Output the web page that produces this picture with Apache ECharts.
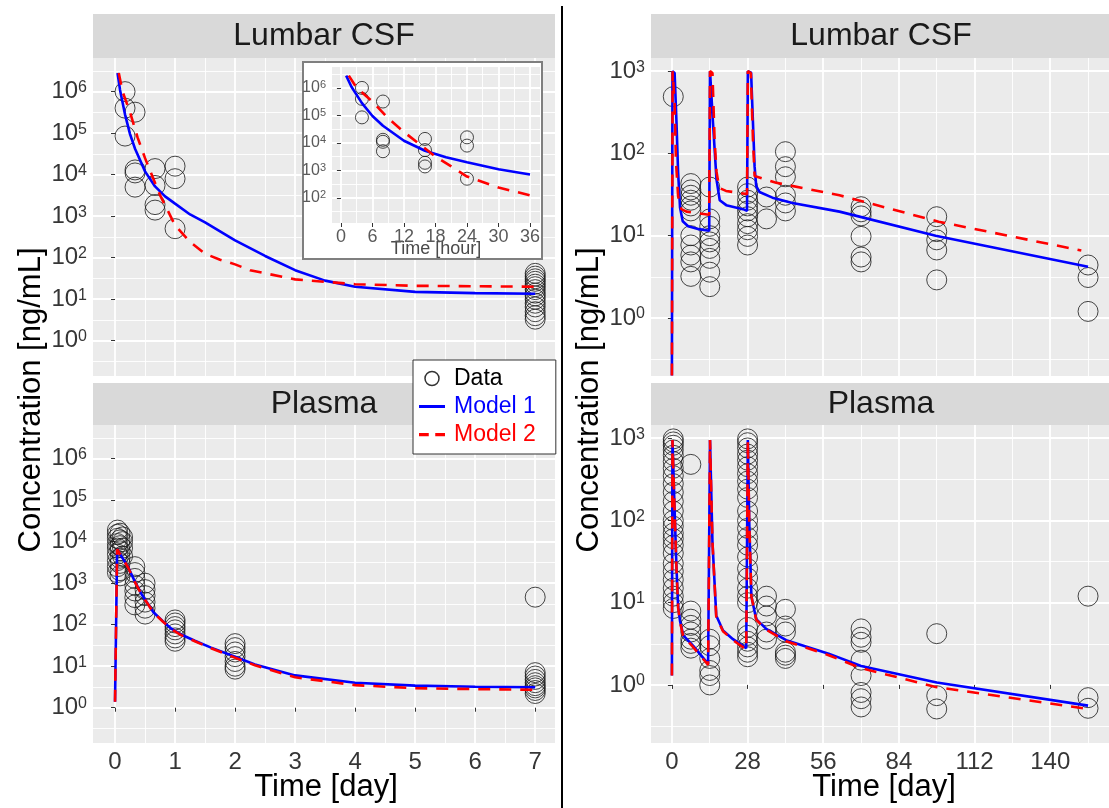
<!DOCTYPE html>
<html>
<head>
<meta charset="utf-8">
<script src="https://cdn.jsdelivr.net/npm/echarts@6/dist/echarts.min.js"></script>
<style>
  html, body { margin: 0; padding: 0; background: #ffffff; }
  #chart { width: 1109px; height: 808px; }
</style>
</head>
<body>
<div id="chart"></div>
<script>
// ---------------- observed concentrations ----------------
// Lumbar CSF, first week: [time in hours, concentrations ng/mL]
const csfWeekGroups = [
  [4,   [1.0e6, 4.0e5, 8.5e4]],
  [8,   [3.2e5, 1.3e4, 1.1e4, 5.0e3]],
  [16,  [1.4e4, 5.5e3, 1.9e3, 1.4e3]],
  [24,  [1.6e4, 8.0e3, 5.0e2]],
  [168, [42, 36, 31, 27, 23, 20, 17, 14, 12, 10, 8, 6.5, 5, 4, 3.3]]
];
// Plasma, first week: [time in days, concentrations]
const plasmaWeekGroups = [
  [0.04,  [1.9e4, 1.5e4, 1.2e4, 9e3, 7e3, 5e3, 3.5e3, 2.5e3, 1.8e3]],
  [0.083, [1.6e4, 1.1e4, 8e3, 6e3, 4e3, 3e3, 2e3, 1.5e3]],
  [0.125, [1.3e4, 1.0e4, 7e3, 4.5e3]],
  [0.33,  [2500, 1800, 1300, 900, 650, 450, 300]],
  [0.5,   [1000, 700, 500, 350, 250, 180]],
  [1,     [130, 110, 90, 75, 60, 48, 40]],
  [2,     [35, 28, 22, 17, 13, 10, 8.5]],
  [7,     [460, 7, 5.8, 4.8, 4, 3.4, 3, 2.6, 2.2]]
];
// Lumbar CSF, repeated dosing: [time in days, concentrations]
const csfLongGroups = [
  [0.5, [490]],
  [7,   [43, 36, 31, 27, 23, 20, 10, 7.7, 5.8, 4.8, 3.2]],
  [14,  [39, 16, 13, 10, 8.4, 7, 5.3, 3.6, 2.4]],
  [28,  [39, 32.5, 27, 23, 20, 17, 14, 11.8, 9.8, 7.7]],
  [35,  [29.5, 16]],
  [42,  [105, 69, 52, 31, 25, 20]],
  [70,  [22.5, 19.5, 17.4, 9.8, 5.5, 4.8]],
  [98,  [17, 11.2, 8.9, 6.7, 2.9]],
  [154, [4.4, 3.1, 1.2]]
];
// Plasma, repeated dosing: [time in days, concentrations]
const plasmaLongGroups = [
  [0.5, [980, 900, 820, 720, 620, 520, 430, 350, 280, 220, 170, 130, 100, 85, 70, 60, 50, 40, 30, 24, 19, 15, 12, 10, 8.5]],
  [7,   [480, 7.9, 6.3, 5.3, 4.4, 3.6, 3.2, 2.8]],
  [14,  [3.6, 3.0, 2.1, 1.5, 1.3, 1.0]],
  [28,  [980, 880, 760, 640, 540, 450, 370, 300, 240, 190, 130, 100, 80, 62, 50, 36, 26, 20, 15, 12, 10, 5, 4, 3.4, 2.9, 2.5, 2.2]],
  [35,  [12, 9.1, 6.9, 4.4, 3.6]],
  [42,  [8.3, 5.2, 4.4, 2.5, 2.3, 2.1]],
  [70,  [4.8, 3.8, 3.3, 2.0, 1.3, 0.81, 0.68, 0.54]],
  [98,  [4.2, 0.74, 0.51]],
  [154, [12, 0.7, 0.52]]
];

// ---------------- model predictions ----------------
// Lumbar CSF, first week [hours, ng/mL]
const model1CsfWeek = [[1,2.8e6],[2,1.1e6],[4,2.8e5],[6,9.5e4],[8,4.2e4],[12,1.2e4],[16,5.2e3],[20,3.0e3],[24,2.0e3],[30,1.1e3],[36,710],[48,260],[60,110],[72,50],[84,28],[96,20],[120,15],[144,14],[168,13.5]];
const model2CsfWeek = [[1.5,2.8e6],[3,1.0e6],[6,3.2e5],[9,7.9e4],[12,2.5e4],[15,8.9e3],[18,3.2e3],[21,1.4e3],[24,600],[30,240],[36,125],[42,89],[48,69],[54,50],[60,42],[72,30],[96,23],[120,21],[168,20]];
// Plasma, first week [days, ng/mL]
const model1PlasmaWeek = [[0,1.4],[0.035,6600],[0.1,4600],[0.22,2400],[0.33,1100],[0.44,550],[0.55,316],[0.64,200],[0.8,120],[0.94,80],[1.1,58],[1.33,41],[1.6,28],[1.89,19.5],[2.33,11],[3,6],[4,4],[5,3.4],[6,3.2],[7,3.1]];
const model2PlasmaWeek = [[0,1.4],[0.035,6600],[0.1,4550],[0.22,2350],[0.33,1080],[0.44,540],[0.55,310],[0.64,195],[0.8,118],[0.94,78],[1.1,56],[1.33,40],[1.6,27],[1.89,18.5],[2.33,10.5],[3,5.4],[4,3.5],[5,2.95],[6,2.8],[7,2.7]];
// Lumbar CSF, repeated dosing [days, ng/mL]
const model1CsfLong = [[0,0.2],[0.2,1000],[1.0,950],[1.7,235],[2.3,58],[3,22],[4,15],[6,13],[10,12],[13.8,11.5],[14.1,1000],[14.8,950],[15.2,235],[16.5,48],[17.7,27],[20.1,23.5],[26.3,21],[27.8,20],[28.1,1000],[29.3,960],[30.6,69],[31.2,40],[32.4,34],[37.2,29],[44.6,25],[62,19.6],[97.6,10],[154,4.2]];
const model2CsfLong = [[0,0.2],[0.25,1000],[1.0,400],[1.5,80],[2.3,30],[3.5,21],[5.4,19.6],[10.3,18.6],[13.8,18],[14.1,1000],[15.0,950],[15.8,145],[16.5,60],[17.5,38],[20,35],[27.8,32],[28.1,1000],[29.2,950],[30,145],[30.6,53],[38.6,44],[62,31],[98.7,14.8],[151.5,6.6]];
// Plasma, repeated dosing [days, ng/mL]
const model1PlasmaLong = [[0,1.3],[0.2,950],[1.1,105],[1.7,26],[2.3,9],[3,6],[4.2,4],[7.8,3],[13.4,1.8],[13.9,1.75],[14.1,950],[15,55],[16.4,7],[18.9,4.6],[22.6,3.6],[27.5,2.8],[27.9,2.75],[28.1,950],[28.6,100],[29.4,12],[31.2,6.3],[34.9,4.8],[42.3,3.5],[58,2.4],[70,1.7],[98,1.07],[154,0.56]];
const model2PlasmaLong = [[0,1.3],[0.2,950],[1.1,100],[1.7,25],[2.3,8.7],[3,5.8],[4.2,3.9],[7.8,2.9],[13.4,1.75],[13.9,1.7],[14.1,950],[15,55],[16.4,6.8],[18.9,4.5],[22.6,3.5],[27.5,2.7],[27.9,2.7],[28.1,950],[28.6,100],[29.4,12],[31.2,6.2],[34.9,4.7],[42.3,3.4],[58,2.3],[70,1.6],[98,0.94],[154,0.51]];

// ---------------- axis breaks ----------------
const weekDayTicks = [0, 1, 2, 3, 4, 5, 6, 7];
const weekDayMinor = [0.5, 1.5, 2.5, 3.5, 4.5, 5.5, 6.5];
const longDayTicks = [0, 28, 56, 84, 112, 140];
const longDayMinor = [14, 42, 70, 98, 126, 154];
const hourTicks = [0, 6, 12, 18, 24, 30, 36];
const hourMinor = [3, 9, 15, 21, 27, 33];
const weekExp = [0, 1, 2, 3, 4, 5, 6];
const weekExpMinor = [-0.5, 0.5, 1.5, 2.5, 3.5, 4.5, 5.5, 6.5];
const longExp = [0, 1, 2, 3];
const longExpMinor = [-0.5, 0.5, 1.5, 2.5];
const hourExp = [2, 3, 4, 5, 6];
const hourExpMinor = [1.5, 2.5, 3.5, 4.5, 5.5, 6.5];

// ---------------- helpers ----------------
const FONT = '"Liberation Sans", Arial, sans-serif';
const BLUE = '#0000ff';
const RED = '#ff0000';
const flatten = (groups, scale) => {
  const out = [];
  groups.forEach(([t, vals]) => vals.forEach(v => out.push([t * scale, v])));
  return out;
};
const rescale = (pts, scale) => pts.map(([t, v]) => [t * scale, v]);

// panel rectangles (px)
const P = {
  csfWeek:    { left: 93,  top: 58,  width: 462, height: 318 },
  plasmaWeek: { left: 93,  top: 425, width: 462, height: 318 },
  csfLong:    { left: 651, top: 58,  width: 460, height: 318 },
  plasmaLong: { left: 651, top: 425, width: 460, height: 318 },
  inset:      { left: 332, top: 67,  width: 208, height: 156 }
};
const grids = [P.csfWeek, P.plasmaWeek, P.csfLong, P.plasmaLong, P.inset].map((g, i) => ({
  left: g.left, top: g.top, width: g.width, height: g.height,
  show: true, backgroundColor: '#ebebeb', borderWidth: 0,
  z: i === 4 ? 5 : 0
}));

function xMain(gi, min, max, ticks, fs, color, z, margin) {
  return {
    type: 'value', gridIndex: gi, min, max, z,
    axisLine: { show: false },
    axisTick: { show: true, length: 4, customValues: ticks, lineStyle: { color: '#333', width: 1 } },
    axisLabel: { customValues: ticks, fontSize: fs, fontFamily: FONT, color, margin },
    splitLine: { show: true, lineStyle: { color: '#ffffff', width: 1.8 } }
  };
}
function xMinor(gi, min, max, ticks, z) {
  return {
    type: 'value', gridIndex: gi, min, max, z,
    axisLine: { show: false }, axisLabel: { show: false },
    axisTick: { show: false, customValues: ticks },
    splitLine: { show: true, lineStyle: { color: '#ffffff', width: 0.9 } }
  };
}
function yMain(gi, lo, hi, exps, fs, sup, color, z) {
  return {
    type: 'log', logBase: 10, gridIndex: gi, min: Math.pow(10, lo), max: Math.pow(10, hi), z,
    axisLine: { show: false },
    axisTick: { show: true, length: 4, customValues: exps.map(e => Math.pow(10, e)), lineStyle: { color: '#333', width: 1 } },
    axisLabel: {
      customValues: exps.map(e => Math.pow(10, e)),
      margin: 6, color, fontFamily: FONT,
      formatter: v => '{b|10}{s|' + Math.round(Math.log10(v)) + '}',
      rich: {
        b: { fontSize: fs, fontFamily: FONT, color, verticalAlign: 'bottom' },
        s: { fontSize: sup, fontFamily: FONT, color, verticalAlign: 'top' }
      }
    },
    splitLine: { show: true, lineStyle: { color: '#ffffff', width: 1.8 } }
  };
}
function yMinor(gi, lo, hi, exps, z) {
  return {
    type: 'value', gridIndex: gi, min: lo, max: hi, z,
    axisLine: { show: false }, axisLabel: { show: false },
    axisTick: { show: false, customValues: exps },
    splitLine: { show: true, lineStyle: { color: '#ffffff', width: 0.9 } }
  };
}

const weekX = [-0.367, 7.33];
const longX = [-7.74, 161.75];
const hourX = [-1.7, 37.9];
const weekY = [-0.85, 6.81];
const longY = [-0.706, 3.16];
const hourY = [1.09, 6.76];
const TICK = '#363636';
const INSET_TICK = '#5a5a5a';

const xAxis = [
  xMain(0, weekX[0], weekX[1], weekDayTicks, 24, TICK, 0, 7),
  xMain(1, weekX[0], weekX[1], weekDayTicks, 24, TICK, 0, 7),
  xMain(2, longX[0], longX[1], longDayTicks, 24, TICK, 0, 7),
  xMain(3, longX[0], longX[1], longDayTicks, 24, TICK, 0, 7),
  xMain(4, hourX[0], hourX[1], hourTicks, 18, INSET_TICK, 6, 5),
  xMinor(0, weekX[0], weekX[1], weekDayMinor, 0),
  xMinor(1, weekX[0], weekX[1], weekDayMinor, 0),
  xMinor(2, longX[0], longX[1], longDayMinor, 0),
  xMinor(3, longX[0], longX[1], longDayMinor, 0),
  xMinor(4, hourX[0], hourX[1], hourMinor, 6)
];
xAxis[0].axisLabel.show = false;
xAxis[0].axisTick.show = false;
xAxis[2].axisLabel.show = false;
xAxis[2].axisTick.show = false;

const yAxis = [
  yMain(0, weekY[0], weekY[1], weekExp, 24, 16, TICK, 0),
  yMain(1, weekY[0], weekY[1], weekExp, 24, 16, TICK, 0),
  yMain(2, longY[0], longY[1], longExp, 24, 16, TICK, 0),
  yMain(3, longY[0], longY[1], longExp, 24, 16, TICK, 0),
  yMain(4, hourY[0], hourY[1], hourExp, 16, 11, INSET_TICK, 6),
  yMinor(0, weekY[0], weekY[1], weekExpMinor, 0),
  yMinor(1, weekY[0], weekY[1], weekExpMinor, 0),
  yMinor(2, longY[0], longY[1], longExpMinor, 0),
  yMinor(3, longY[0], longY[1], longExpMinor, 0),
  yMinor(4, hourY[0], hourY[1], hourExpMinor, 6)
];

function dataSeries(ai, pts, size, z) {
  return {
    name: 'Data', type: 'scatter', xAxisIndex: ai, yAxisIndex: ai, data: pts,
    symbol: 'circle', symbolSize: size, z,
    itemStyle: { color: 'rgba(0,0,0,0)', borderColor: '#1a1a1a', borderWidth: 1 },
    emphasis: { disabled: true }, silent: true
  };
}
function modelSeries(name, ai, pts, color, dashed, z) {
  return {
    name, type: 'line', xAxisIndex: ai, yAxisIndex: ai, data: pts,
    symbol: 'none', showSymbol: false, z,
    lineStyle: { color, width: 2.6, type: dashed ? [12, 9] : 'solid' },
    itemStyle: { color },
    emphasis: { disabled: true }, silent: true
  };
}

const series = [
  // Lumbar CSF, first week (days)
  dataSeries(0, flatten(csfWeekGroups, 1 / 24), 20, 2),
  modelSeries('Model 1', 0, rescale(model1CsfWeek, 1 / 24), BLUE, false, 3),
  modelSeries('Model 2', 0, rescale(model2CsfWeek, 1 / 24), RED, true, 4),
  // Plasma, first week
  dataSeries(1, flatten(plasmaWeekGroups, 1), 20, 2),
  modelSeries('Model 1', 1, model1PlasmaWeek, BLUE, false, 3),
  modelSeries('Model 2', 1, model2PlasmaWeek, RED, true, 4),
  // Lumbar CSF, repeated dosing
  dataSeries(2, flatten(csfLongGroups, 1), 20, 2),
  modelSeries('Model 1', 2, model1CsfLong, BLUE, false, 3),
  modelSeries('Model 2', 2, model2CsfLong, RED, true, 4),
  // Plasma, repeated dosing
  dataSeries(3, flatten(plasmaLongGroups, 1), 20, 2),
  modelSeries('Model 1', 3, model1PlasmaLong, BLUE, false, 3),
  modelSeries('Model 2', 3, model2PlasmaLong, RED, true, 4),
  // inset: first 36 hours of lumbar CSF
  dataSeries(4, flatten(csfWeekGroups.filter(g => g[0] <= 36), 1), 13, 7),
  modelSeries('Model 1', 4, model1CsfWeek.filter(p => p[0] <= 36), BLUE, false, 8),
  modelSeries('Model 2', 4, model2CsfWeek.filter(p => p[0] <= 36), RED, true, 9)
];

function strip(g, label, y, h) {
  return [
    { type: 'rect', z: 1, shape: { x: g.left, y, width: g.width, height: h }, style: { fill: '#d9d9d9' } },
    { type: 'text', z: 2, style: { text: label, x: g.left + g.width / 2, y: y + h / 2, align: 'center', verticalAlign: 'middle', font: '32px ' + FONT, fill: '#1a1a1a' } }
  ];
}
const graphic = [
  ...strip(P.csfWeek, 'Lumbar CSF', 14, 44),
  ...strip(P.plasmaWeek, 'Plasma', 383, 42),
  ...strip(P.csfLong, 'Lumbar CSF', 14, 44),
  ...strip(P.plasmaLong, 'Plasma', 383, 42),
  // inset frame
  { type: 'rect', z: 4, shape: { x: 303, y: 62, width: 239, height: 197 }, style: { fill: '#ffffff', stroke: '#7f7f7f', lineWidth: 2 } },
  { type: 'text', z: 6, style: { text: 'Time [hour]', x: 436, y: 249, align: 'center', verticalAlign: 'middle', font: '18px ' + FONT, fill: '#4a4a4a' } },
  // axis titles
  { type: 'text', z: 2, rotation: Math.PI / 2, x: 31, y: 400, style: { text: 'Concentration [ng/mL]', align: 'center', verticalAlign: 'middle', font: '31px ' + FONT, fill: '#000' } },
  { type: 'text', z: 2, rotation: Math.PI / 2, x: 589, y: 400, style: { text: 'Concentration [ng/mL]', align: 'center', verticalAlign: 'middle', font: '31px ' + FONT, fill: '#000' } },
  { type: 'text', z: 2, style: { text: 'Time [day]', x: 326, y: 787, align: 'center', verticalAlign: 'middle', font: '31px ' + FONT, fill: '#000' } },
  { type: 'text', z: 2, style: { text: 'Time [day]', x: 884, y: 787, align: 'center', verticalAlign: 'middle', font: '31px ' + FONT, fill: '#000' } },
  // column separator
  { type: 'line', z: 10, shape: { x1: 562, y1: 6, x2: 562, y2: 808 }, style: { stroke: '#000', lineWidth: 2 } }
];

// legend glyphs for the model lines: solid bar and two dashes
const ICON_SOLID = 'path://M0,0H26V3H0Z';
const ICON_DASHED = 'path://M0,0H9V3H0Z M15,0H24V3H15Z';

const chart = echarts.init(document.getElementById('chart'), null, { renderer: 'canvas' });
chart.setOption({
  animation: false,
  backgroundColor: '#ffffff',
  grid: grids,
  xAxis, yAxis, series, graphic,
  legend: {
    left: 413, top: 360, orient: 'vertical', z: 20,
    backgroundColor: '#ffffff', borderColor: '#333', borderWidth: 1,
    padding: [7, 20, 8, 6], itemGap: 5, itemWidth: 26, itemHeight: 14,
    selectedMode: false,
    textStyle: { fontSize: 23, fontFamily: FONT, padding: [0, 0, 0, 4] },
    data: [
      { name: 'Data', icon: 'circle', textStyle: { color: '#000' }, itemStyle: { color: 'rgba(0,0,0,0)', borderColor: '#000', borderWidth: 1.5 } },
      { name: 'Model 1', icon: ICON_SOLID, textStyle: { color: BLUE }, itemStyle: { color: BLUE, borderWidth: 0 } },
      { name: 'Model 2', icon: ICON_DASHED, textStyle: { color: RED }, itemStyle: { color: RED, borderWidth: 0 } }
    ]
  }
});
</script>
</body>
</html>
